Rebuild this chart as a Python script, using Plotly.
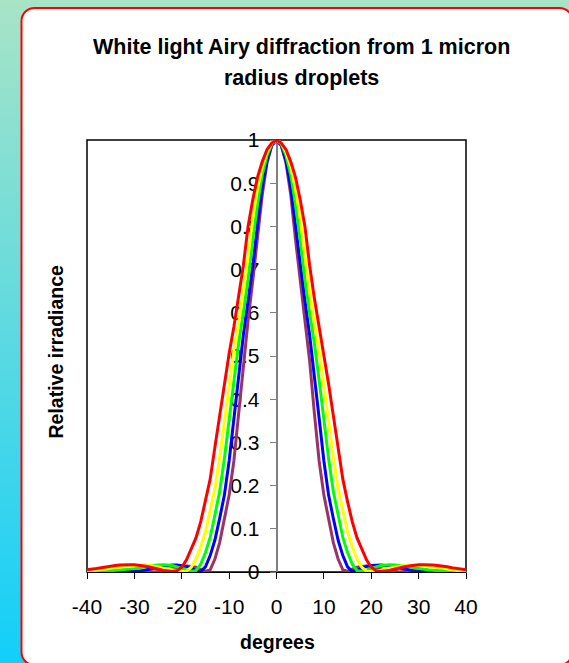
import base64
import plotly.graph_objects as go

# ---- data (half profile, 0..40 degrees, curves are symmetric) ----
half_degrees = list(range(0, 41))

red = [1.000, 0.993, 0.978, 0.950, 0.914, 0.862, 0.800, 0.709, 0.633, 0.567,
       0.506, 0.435, 0.362, 0.289, 0.215, 0.163, 0.116, 0.079, 0.052, 0.028,
       0.011, 0.003, 0.001, 0.002, 0.004, 0.007, 0.010, 0.012, 0.014, 0.016,
       0.017, 0.017, 0.017, 0.016, 0.015, 0.014, 0.012, 0.010, 0.008, 0.006, 0.005]
yellow = [1.000, 0.993, 0.972, 0.938, 0.887, 0.820, 0.730, 0.648, 0.577, 0.513,
          0.432, 0.347, 0.265, 0.193, 0.143, 0.093, 0.058, 0.030, 0.011, 0.002,
          0.001, 0.002, 0.004, 0.007, 0.009, 0.012, 0.014, 0.015, 0.016, 0.016,
          0.015, 0.014, 0.013, 0.012, 0.010, 0.009, 0.007, 0.005, 0.004, 0.003, 0.002]
green = [1.000, 0.991, 0.964, 0.920, 0.852, 0.770, 0.677, 0.600, 0.529, 0.444,
         0.351, 0.262, 0.186, 0.132, 0.080, 0.045, 0.018, 0.003, 0.002, 0.005,
         0.009, 0.012, 0.015, 0.016, 0.017, 0.016, 0.015, 0.014, 0.012, 0.010,
         0.008, 0.007, 0.005, 0.004, 0.003, 0.002, 0.002, 0.001, 0.001, 0.001, 0.002]
blue = [1.000, 0.988, 0.952, 0.891, 0.804, 0.709, 0.628, 0.548, 0.459, 0.356,
        0.257, 0.178, 0.124, 0.074, 0.038, 0.012, 0.001, 0.004, 0.009, 0.013,
        0.015, 0.016, 0.016, 0.015, 0.013, 0.011, 0.008, 0.006, 0.004, 0.002,
        0.001, 0.001, 0.001, 0.001, 0.002, 0.002, 0.003, 0.003, 0.004, 0.004, 0.004]
purple = [1.000, 0.987, 0.947, 0.874, 0.771, 0.676, 0.582, 0.488, 0.367, 0.257,
          0.178, 0.122, 0.068, 0.030, 0.005, 0.002, 0.006, 0.011, 0.013, 0.014,
          0.013, 0.011, 0.008, 0.005, 0.003, 0.001, 0.000, 0.001, 0.001, 0.002,
          0.003, 0.003, 0.004, 0.004, 0.004, 0.003, 0.003, 0.002, 0.001, 0.001, 0.000]

x_ticks = [-40, -30, -20, -10, 0, 10, 20, 30, 40]
x_tick_text = ["-40", "-30", "-20", "-10", "0", "10", "20", "30", "40"]
y_ticks = [0, 0.1, 0.2, 0.3, 0.4, 0.5, 0.6, 0.7, 0.8, 0.9, 1]
y_tick_text = ["0", "0.1", "0.2", "0.3", "0.4", "0.5", "0.6", "0.7", "0.8", "0.9", "1"]

title_lines = ["White light Airy diffraction from 1 micron", "radius droplets"]
x_title = "degrees"
y_title = "Relative irradiance"

series = [
    ("violet", purple, "#993366"),
    ("blue", blue, "#0000ff"),
    ("green", green, "#00ff00"),
    ("yellow", yellow, "#ffff00"),
    ("red", red, "#ff0000"),
]


def full_profile(half):
    return half[::-1] + half[1:]


degrees = [-d for d in half_degrees[::-1]] + half_degrees[1:]

# ---- layout geometry ----
W, H = 569, 663
ML, MR, MT, MB = 87, 103, 140, 91
PW, PH = W - ML - MR, H - MT - MB

FONT = "Liberation Sans, Arial, sans-serif"

fig = go.Figure()
for name, vals, col in series:
    fig.add_trace(go.Scatter(
        x=degrees, y=full_profile(vals), mode="lines", name=name,
        line=dict(color=col, width=3), showlegend=False, hoverinfo="skip"))

svg = f"""<svg xmlns='http://www.w3.org/2000/svg' width='{W}' height='{H}' viewBox='0 0 {W} {H}'>
<defs><linearGradient id='g' x1='0' y1='0' x2='0' y2='1'>
<stop offset='0' stop-color='#a8e4c6'/><stop offset='1' stop-color='#12cffa'/>
</linearGradient></defs>
<rect x='0' y='0' width='{W}' height='{H}' fill='url(#g)'/>
<rect x='21.5' y='8' width='551' height='657' rx='13' ry='13' fill='#ffffff' stroke='#ff0000' stroke-width='2'/>
</svg>"""
src = "data:image/svg+xml;base64," + base64.b64encode(svg.encode()).decode()

fig.update_layout(
    width=W, height=H,
    margin=dict(l=ML, r=MR, t=MT, b=MB, pad=0),
    paper_bgcolor="#ffffff", plot_bgcolor="rgba(0,0,0,0)",
    font=dict(family=FONT, color="#000000"),
    images=[dict(source=src, xref="paper", yref="paper",
                 x=-ML / PW, y=1 + MT / PH, sizex=W / PW, sizey=H / PH,
                 xanchor="left", yanchor="top", sizing="stretch", layer="below")],
    xaxis=dict(range=[-40, 40], tickvals=x_ticks, ticktext=x_tick_text,
               ticks="outside", ticklen=6,
               tickcolor="#000000", showline=True, linecolor="#000000", linewidth=1,
               showgrid=False, zeroline=False, tickfont=dict(size=21, family=FONT),
               ticklabelstandoff=10, layer="below traces", fixedrange=True),
    yaxis=dict(range=[0, 1], tickvals=y_ticks, ticktext=y_tick_text, anchor="free",
               position=0.5, ticks="outside", ticklen=6, tickcolor="#808080",
               showline=True, linecolor="#808080", linewidth=1.5,
               showgrid=False, zeroline=False, tickfont=dict(size=21, family=FONT),
               ticklabelstandoff=6, layer="below traces", fixedrange=True),
    shapes=[dict(type="rect", xref="paper", yref="paper", x0=0, x1=1, y0=0, y1=1,
                 line=dict(color="#000000", width=1.5), layer="below")],
    annotations=[
        dict(text=f"<b>{title_lines[0]}</b>", xref="paper", yref="paper",
             x=(301 - ML) / PW, y=(H - MB - 46.6) / PH, xanchor="center", yanchor="middle",
             showarrow=False, font=dict(size=21.5, family=FONT)),
        dict(text=f"<b>{title_lines[1]}</b>", xref="paper", yref="paper",
             x=(301 - ML) / PW, y=(H - MB - 78) / PH, xanchor="center", yanchor="middle",
             showarrow=False, font=dict(size=21.5, family=FONT)),
        dict(text=f"<b>{y_title}</b>", xref="paper", yref="paper",
             x=(55.5 - ML) / PW, y=(H - MB - 352) / PH, xanchor="center", yanchor="middle",
             textangle=-90, showarrow=False, font=dict(size=19.5, family=FONT)),
        dict(text=f"<b>{x_title}</b>", xref="paper", yref="paper",
             x=(277 - ML) / PW, y=(H - MB - 642) / PH, xanchor="center", yanchor="middle",
             showarrow=False, font=dict(size=19.5, family=FONT)),
    ],
)

fig.write_html("out.html")
